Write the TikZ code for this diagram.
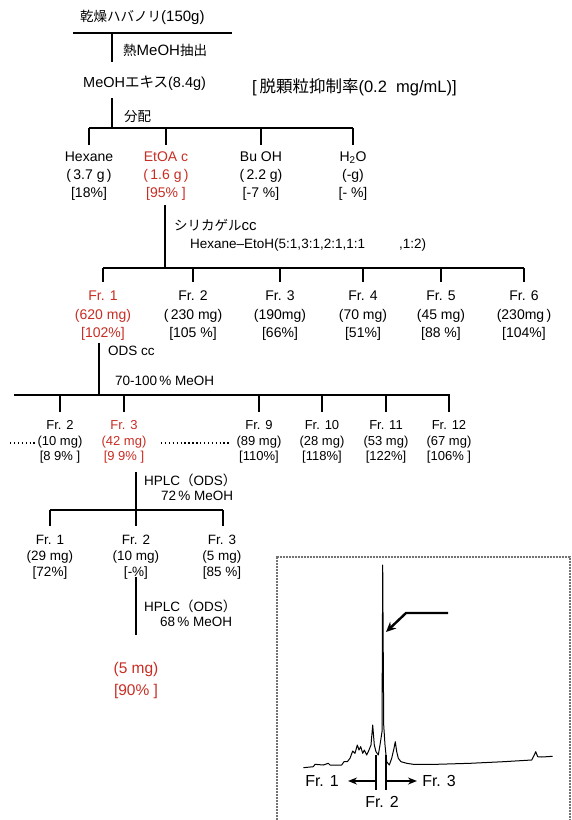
\documentclass[tikz,border=0pt]{standalone}
\usepackage{fontspec}
\setmainfont{Liberation Sans}
\newfontfamily\jp{Noto Sans CJK JP}
\usetikzlibrary{arrows.meta}
\definecolor{fred}{RGB}{200,45,35}
\newcommand\jpw[2]{{\jp\fontsize{#1}{16}\selectfont #2}}
\begin{document}
\begin{tikzpicture}[x=1pt,y=-1pt,
  ln/.style={line width=1.6pt},
  txt/.style={inner sep=0pt,align=center},
  wt/.style={inner sep=0pt,anchor=west,font=\fontsize{13.5}{16}\selectfont},
  rowA/.style={txt,font=\fontsize{14}{18}\selectfont},
  rowB/.style={txt,font=\fontsize{14}{18.5}\selectfont},
  rowC/.style={txt,font=\fontsize{13}{15.5}\selectfont},
  rowD/.style={txt,font=\fontsize{13.5}{16}\selectfont},
  red/.style={text=fred},
  dots/.style={line width=1.4pt,dash pattern=on 1.4pt off 2.5pt},
  chrom/.style={line width=1pt,line join=round},
  box/.style={draw=black!55,line width=1.4pt,dash pattern=on 1pt off 0.5pt},
  tip/.style={-{Stealth[length=9pt,width=7pt]},line width=1.6pt}
]
\useasboundingbox (0,0) rectangle (571,820);

% --- top ---
\node[wt,font=\fontsize{15}{16}\selectfont] (src) at (80,17) {\jpw{13.5}{乾燥ハバノリ}(150g)};
\coordinate (l1L) at (73,33); \coordinate (l1R) at (232,33);
\draw[ln] (l1L) -- (l1R);
\coordinate (v1a) at (112,33); \coordinate (v1b) at (112,62);
\draw[ln] (v1a) -- (v1b);
\node[wt,font=\fontsize{15}{16}\selectfont] (hot) at (123,50) {\jpw{13.5}{熱}MeOH\jpw{13.5}{抽出}};
\node[wt,font=\fontsize{14.5}{16}\selectfont] (ext) at (83,83) {MeOH\jpw{14.5}{エキス}(8.4g)};
\node[wt,font=\fontsize{16.5}{18}\selectfont] (inh) at (252,87) {[\,\jpw{16.5}{脱顆粒抑制率}(0.2\ \ mg/mL)]};
\coordinate (v2a) at (112,98); \coordinate (v2b) at (112,128);
\draw[ln] (v2a) -- (v2b);
\node[wt] (part) at (124,117) {\jpw{13.5}{分配}};

% --- partition ---
\coordinate (h2L) at (89,128); \coordinate (h2R) at (353,128);
\draw[ln] (h2L) -- (h2R);
\foreach \x/\n in {89/a,166/b,261/c,353/d}{
  \coordinate (t2\n) at (\x,128); \coordinate (b2\n) at (\x,145);
  \draw[ln] (t2\n) -- (b2\n);
}
\node[rowA] (hex) at (89,176) {Hexane\\(\,3.7\ g\,)\\{}[18\%]};
\node[rowA,red] (eta) at (166,176) {EtOA c\\(\,1.6\ g\,)\\{}[95\% ]};
\node[rowA] (buo) at (261,176) {Bu OH\\(\,2.2 g)\\{}[-7 \%]};
\node[rowA] (wat) at (353,176) {H\textsubscript{2}O\\(-g)\\{}[- \%]};

% --- silica ---
\coordinate (v3a) at (165,205); \coordinate (v3b) at (165,268);
\draw[ln] (v3a) -- (v3b);
\node[wt,font=\fontsize{15}{16}\selectfont] (sil) at (174,225) {\jpw{13.5}{シリカゲル}cc};
\node[wt] (solv) at (190,245) {Hexane--EtoH(5:1,3:1,2:1,1:1\hspace{34pt},1:2)};
\coordinate (h3L) at (103,268); \coordinate (h3R) at (524,268);
\draw[ln] (h3L) -- (h3R);
\foreach \x/\n in {103/a,193/b,280/c,363/d,441/e,524/f}{
  \coordinate (t3\n) at (\x,268); \coordinate (b3\n) at (\x,282);
  \draw[ln] (t3\n) -- (b3\n);
}
\node[rowB,red] (s1) at (103,316) {Fr. 1\\(620 mg)\\{}[102\%]};
\node[rowB] (s2) at (193,316) {Fr. 2\\(\,230 mg)\\{}[105 \%]};
\node[rowB] (s3) at (280,316) {Fr. 3\\(190mg)\\{}[66\%]};
\node[rowB] (s4) at (363,316) {Fr. 4\\(70 mg)\\{}[51\%]};
\node[rowB] (s5) at (441,316) {Fr. 5\\(45 mg)\\{}[88 \%]};
\node[rowB] (s6) at (524,316) {Fr. 6\\(230mg\,)\\{}[104\%]};

% --- ODS ---
\coordinate (v4a) at (99,343); \coordinate (v4b) at (99,395);
\draw[ln] (v4a) -- (v4b);
\node[wt] (ods) at (108,351) {ODS cc};
\node[wt] (ods2) at (115,381) {70-100\,\% MeOH};
\coordinate (h4L) at (14,395); \coordinate (h4R) at (450,395);
\draw[ln] (h4L) -- (h4R);
\foreach \x/\n in {60/a,124/b,259/c,322/d,386/e,449/f}{
  \coordinate (t4\n) at (\x,395); \coordinate (b4\n) at (\x,412);
  \draw[ln] (t4\n) -- (b4\n);
}
\node[rowC] (o2) at (60,442) {Fr. 2\\(10 mg)\\{}[8 9\% ]};
\node[rowC,red] (o3) at (124,442) {Fr. 3\\(42 mg)\\{}[9 9\% ]};
\node[rowC] (o9) at (259,442) {Fr. 9\\(89 mg)\\{}[110\%]};
\node[rowC] (o10) at (322,442) {Fr. 10\\(28 mg)\\{}[118\%]};
\node[rowC] (o11) at (386,442) {Fr. 11\\(53 mg)\\{}[122\%]};
\node[rowC] (o12) at (449,442) {Fr. 12\\(67 mg)\\{}[106\%\ ]};
\coordinate (d1a) at (10,443); \coordinate (d1b) at (36,443);
\draw[dots] (d1a) -- (d1b);
\coordinate (d2a) at (161,443); \coordinate (d2b) at (231,443);
\draw[dots] (d2a) -- (d2b);

% --- HPLC 1 ---
\coordinate (v5a) at (136,472); \coordinate (v5b) at (136,510);
\draw[ln] (v5a) -- (v5b);
\node[wt] (hp1) at (144,480) {HPLC\jpw{13.5}{（}ODS\jpw{13.5}{）}};
\node[wt] (hp1b) at (161,496) {72\,\% MeOH};
\coordinate (h5L) at (50,510); \coordinate (h5R) at (223,510);
\draw[ln] (h5L) -- (h5R);
\foreach \x/\n in {50/a,136/b,223/c}{
  \coordinate (t5\n) at (\x,510); \coordinate (b5\n) at (\x,526);
  \draw[ln] (t5\n) -- (b5\n);
}
\node[rowD] (p1) at (50,557) {Fr. 1\\(29 mg)\\{}[72\%]};
\node[rowD] (p2) at (136,557) {Fr. 2\\(10 mg)\\{}[-\%]};
\node[rowD] (p3) at (222,557) {Fr. 3\\(5 mg)\\{}[85 \%]};

% --- HPLC 2 ---
\coordinate (v6a) at (136,577); \coordinate (v6b) at (136,635);
\draw[ln] (v6a) -- (v6b);
\node[wt] (hp2) at (144,606) {HPLC\jpw{13.5}{（}ODS\jpw{13.5}{）}};
\node[wt] (hp2b) at (160,622) {68\,\% MeOH};
\node[txt,red,font=\fontsize{15.5}{22}\selectfont] (fin) at (136,680) {(5 mg)\\{}[90\% ]};

% --- chromatogram ---
\coordinate (bx1) at (277,820); \coordinate (bx2) at (277,557);
\coordinate (bx3) at (570,557); \coordinate (bx4) at (570,820);
\draw[box] (bx1) -- (bx2) -- (bx3) -- (bx4);
\draw[chrom] (303.3,767.7) -- (313.3,766.7) -- (315,764.3) -- (323.3,765) -- (328.3,763.3) -- (330,765) -- (341.7,765) -- (344,761.7) -- (347.3,761.7) -- (350,758.3) -- (352.7,751) -- (355,753.3) -- (357.3,745) -- (359,750) -- (360.7,746.7) -- (362.7,753.3) -- (364.3,750) -- (366.7,755) -- (369,750) -- (371,745) -- (372.7,725) -- (374.3,745) -- (376,751.7) -- (378.3,755) -- (380,745) -- (382,731.7) -- (382.7,565) -- (383.7,725) -- (385,745) -- (386.7,761.7) -- (389.3,765) -- (391.7,758.3) -- (394,748.3) -- (395.3,741.7) -- (396.7,751.7) -- (398.3,758.3) -- (401,761.7) -- (406.7,763.3) -- (413.3,764.3) -- (436.7,764.3) -- (470,763.3) -- (503.3,761.7) -- (531.7,760) -- (534.3,755) -- (535.7,751.7) -- (537.7,756.7) -- (541.7,757) -- (552.7,756.3);
\coordinate (c1a) at (376,755); \coordinate (c1b) at (376,790);
\coordinate (c2a) at (386,755); \coordinate (c2b) at (386,790);
\draw[line width=1.4pt] (c1a) -- (c1b);
\draw[line width=1.4pt] (c2a) -- (c2b);
\coordinate (a1s) at (376,781); \coordinate (a1e) at (348,781);
\coordinate (a2s) at (386,781); \coordinate (a2e) at (417,781);
\draw[tip] (a1s) -- (a1e);
\draw[tip] (a2s) -- (a2e);
\node[txt,font=\fontsize{16}{18}\selectfont] (cf1) at (322,781) {Fr. 1};
\node[txt,font=\fontsize{16}{18}\selectfont] (cf3) at (439,781) {Fr. 3};
\node[txt,font=\fontsize{16}{18}\selectfont] (cf2) at (382,802) {Fr. 2};
\coordinate (pa) at (448,613); \coordinate (pb) at (406,613); \coordinate (pc) at (386,632);
\draw[line width=2.4pt,-{Stealth[length=10pt,width=9pt]}] (pa) -- (pb) -- (pc);
\end{tikzpicture}
\end{document}
